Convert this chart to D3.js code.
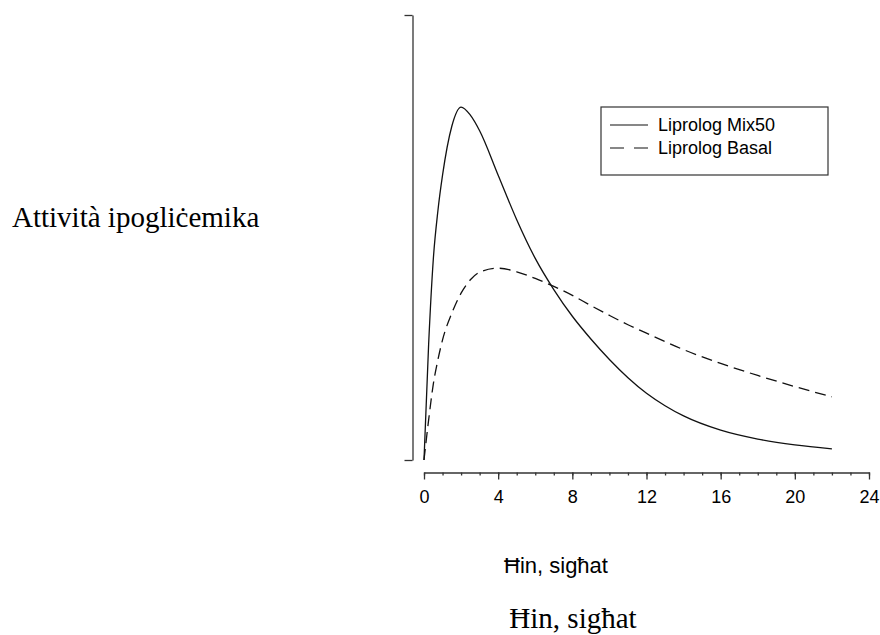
<!DOCTYPE html>
<html>
<head>
<meta charset="utf-8">
<script src="https://cdn.jsdelivr.net/npm/d3@7"></script>
<style>
  body { margin: 0; background: #fff; }
</style>
</head>
<body>
<svg id="chart" width="880" height="635"></svg>
<script>
// hours after injection
const hours = [0, 0.25, 0.5, 0.75, 1, 1.5, 2, 2.5, 3, 4, 5, 6, 7, 8, 9, 10, 11, 12, 13, 14, 16, 18, 20, 22];
// hypoglycaemic activity (arbitrary units)
const mix50 = [0, 26, 45, 56, 64, 75, 79.3, 77.5, 74, 64, 54, 45.3, 38.3, 32.3, 27.2, 22.6, 18.5, 15, 12.2, 9.9, 6.7, 4.7, 3.4, 2.5];
const basal = [0, 9, 17, 22.5, 27, 33, 37.5, 40.5, 42.2, 43.1, 42.3, 40.8, 39, 37, 34.7, 32.5, 30.4, 28.5, 26.6, 24.8, 21.7, 19, 16.5, 14.2];
const seriesNames = ["Liprolog Mix50", "Liprolog Basal"];
const xTickLabels = [0, 4, 8, 12, 16, 20, 24];

const svg = d3.select("#chart");

// scales
const x = d3.scaleLinear().domain([0, 24]).range([424, 869]);
const y = d3.scaleLinear().domain([0, 100]).range([460, 15]);

// y axis: plain line with end ticks only
svg.append("g")
    .attr("transform", "translate(412.5,0)")
    .call(d3.axisLeft(y).tickValues([0, 100]).tickSize(8).tickSizeOuter(0).tickFormat(""))
    .call(g => g.selectAll("path, line").attr("stroke", "#333").attr("stroke-width", 1.3));

// x axis: hourly minor ticks, labelled major ticks every 4 h
const xAxisY = 472.5;
svg.append("g")
    .attr("transform", `translate(0,${xAxisY})`)
    .call(d3.axisBottom(x).tickValues(d3.range(0, 25)).tickSize(3).tickSizeOuter(0).tickFormat(""))
    .call(g => g.selectAll("path, line").attr("stroke", "#333").attr("stroke-width", 1.3));

svg.append("g")
    .attr("transform", `translate(0,${xAxisY})`)
    .call(d3.axisBottom(x).tickValues(xTickLabels).tickSize(7).tickPadding(11).tickSizeOuter(0))
    .call(g => g.select(".domain").remove())
    .call(g => g.selectAll("line").attr("stroke", "#333").attr("stroke-width", 1.3))
    .call(g => g.selectAll("text")
        .attr("fill", "#000")
        .style("font-family", "Arial, 'Liberation Sans', sans-serif")
        .style("font-size", "18px"));

// curves
const line = d3.line()
    .x(d => x(d[0]))
    .y(d => y(d[1]))
    .curve(d3.curveMonotoneX);

svg.append("path")
    .datum(hours.map((h, i) => [h, mix50[i]]))
    .attr("d", line)
    .attr("fill", "none")
    .attr("stroke", "#111")
    .attr("stroke-width", 1.3);

svg.append("path")
    .datum(hours.map((h, i) => [h, basal[i]]))
    .attr("d", line)
    .attr("fill", "none")
    .attr("stroke", "#111")
    .attr("stroke-width", 1.3)
    .attr("stroke-dasharray", "11,6");

// legend
const legend = svg.append("g").attr("transform", "translate(601,107)");
legend.append("rect")
    .attr("width", 227)
    .attr("height", 68)
    .attr("fill", "#fff")
    .attr("stroke", "#333")
    .attr("stroke-width", 1.2);

seriesNames.forEach((name, i) => {
    const rowY = 18 + i * 23;
    legend.append("line")
        .attr("x1", 9).attr("x2", 47)
        .attr("y1", rowY).attr("y2", rowY)
        .attr("stroke", "#111")
        .attr("stroke-width", 1.2)
        .attr("stroke-dasharray", i === 1 ? "14,10" : null);
    legend.append("text")
        .attr("x", 57)
        .attr("y", rowY + 6)
        .style("font-family", "Arial, 'Liberation Sans', sans-serif")
        .style("font-size", "18px")
        .text(name);
});

// axis titles
svg.append("text")
    .attr("x", 12)
    .attr("y", 227)
    .style("font-family", "'Times New Roman', 'Liberation Serif', serif")
    .style("font-size", "29px")
    .text("Attività ipogliċemika");

svg.append("text")
    .attr("x", 556)
    .attr("y", 573)
    .attr("text-anchor", "middle")
    .style("font-family", "Arial, 'Liberation Sans', sans-serif")
    .style("font-size", "22px")
    .text("Ħin, sigħat");

svg.append("text")
    .attr("x", 573)
    .attr("y", 628)
    .attr("text-anchor", "middle")
    .style("font-family", "'Times New Roman', 'Liberation Serif', serif")
    .style("font-size", "29px")
    .text("Ħin, sigħat");
</script>
</body>
</html>
